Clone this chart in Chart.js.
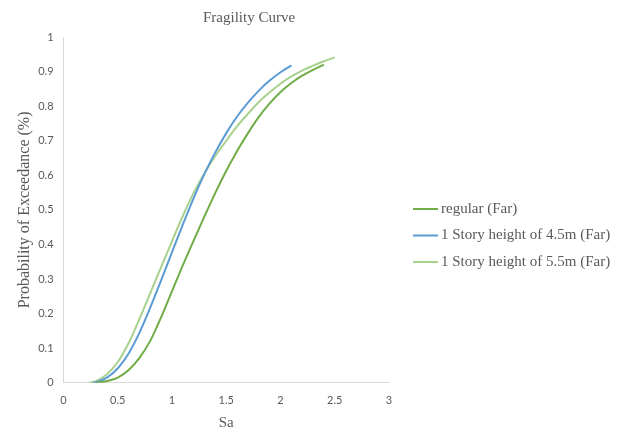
<!DOCTYPE html>
<html>
<head>
<meta charset="utf-8">
<script src="https://cdn.jsdelivr.net/npm/chart.js@4"></script>
<style>
  html, body { margin: 0; padding: 0; background: #fff; }
  #wrap { width: 618px; height: 430px; }
</style>
</head>
<body>
<div id="wrap"><canvas id="chart"></canvas></div>
<script>
var xTicks = [0, 0.5, 1, 1.5, 2, 2.5, 3];

var regularSa = [0.30, 0.40, 0.50, 0.60, 0.70, 0.80, 0.90, 1.00, 1.10, 1.20, 1.30, 1.40, 1.50, 1.60, 1.70, 1.80, 1.90, 2.00, 2.10, 2.20, 2.30, 2.40];
var regularP  = [0, 0.005, 0.015, 0.037, 0.072, 0.122, 0.19, 0.265, 0.34, 0.412, 0.482, 0.55, 0.613, 0.67, 0.722, 0.769, 0.808, 0.841, 0.867, 0.888, 0.905, 0.92];

var h45Sa = [0.27, 0.30, 0.40, 0.50, 0.60, 0.70, 0.80, 0.90, 1.00, 1.10, 1.20, 1.30, 1.40, 1.50, 1.60, 1.70, 1.80, 1.90, 2.00, 2.10];
var h45P  = [0, 0.002, 0.015, 0.042, 0.085, 0.145, 0.218, 0.297, 0.378, 0.458, 0.535, 0.605, 0.667, 0.722, 0.77, 0.81, 0.845, 0.874, 0.898, 0.918];

var h55Sa = [0.235, 0.30, 0.40, 0.50, 0.60, 0.70, 0.80, 0.90, 1.00, 1.10, 1.20, 1.30, 1.40, 1.50, 1.60, 1.70, 1.80, 1.90, 2.00, 2.10, 2.20, 2.30, 2.40, 2.50];
var h55P  = [0, 0.005, 0.025, 0.06, 0.115, 0.185, 0.26, 0.335, 0.41, 0.483, 0.55, 0.607, 0.657, 0.70, 0.742, 0.778, 0.812, 0.84, 0.865, 0.886, 0.903, 0.917, 0.93, 0.941];

var seriesNames = ['regular (Far)', '1 Story height of 4.5m (Far)', '1 Story height of 5.5m (Far)'];
var seriesColors = ['#70ad47', '#5b9bd5', '#a9d18e'];

function pts(xs, ys) {
    var out = [];
    for (var i = 0; i < xs.length; i++) {
        out.push({x: xs[i], y: ys[i]});
    }
    return out;
}

function makeSet(i, xs, ys) {
    return {
        label: seriesNames[i],
        data: pts(xs, ys),
        borderColor: seriesColors[i],
        backgroundColor: seriesColors[i],
        borderWidth: 2,
        pointRadius: 0,
        cubicInterpolationMode: 'monotone',
        fill: false
    };
}

var grey = '#595959';

// title + legend drawn by hand (chart.js caps a side legend at a quarter of the width)
var decoPlugin = {
    id: 'deco',
    afterDraw: function (chart) {
        var ctx = chart.ctx;
        var a = chart.chartArea;
        ctx.save();
        ctx.font = "15px 'Liberation Serif'";
        ctx.fillStyle = grey;
        ctx.textAlign = 'center';
        ctx.textBaseline = 'middle';
        ctx.fillText('Fragility Curve', a.left + (a.right - a.left) * 0.57, 18);

        ctx.font = "15px 'Liberation Serif'";
        ctx.textAlign = 'left';
        var sets = chart.data.datasets;
        var x0 = a.right + 24;
        var y0 = 209;
        for (var i = 0; i < sets.length; i++) {
            var y = y0 + i * 26.5;
            ctx.strokeStyle = sets[i].borderColor;
            ctx.lineWidth = sets[i].borderWidth;
            ctx.beginPath();
            ctx.moveTo(x0, y);
            ctx.lineTo(x0 + 25, y);
            ctx.stroke();
            ctx.fillText(sets[i].label, x0 + 28, y);
        }
        ctx.restore();
    }
};

function plainTick(v) {
    return String(Math.round(v * 10) / 10);
}

var ctx = document.getElementById('chart').getContext('2d');
var myChart = new Chart(ctx, {
    type: 'line',
    data: {
        datasets: [
            makeSet(0, regularSa, regularP),
            makeSet(1, h45Sa, h45P),
            makeSet(2, h55Sa, h55P)
        ]
    },
    options: {
        responsive: true,
        maintainAspectRatio: false,
        animation: false,
        layout: {
            padding: {top: 37, left: 2, right: 229, bottom: -2}
        },
        scales: {
            x: {
                type: 'linear',
                min: 0,
                max: 3,
                afterBuildTicks: function (axis) {
                    axis.ticks = xTicks.map(function (v) { return {value: v}; });
                },
                grid: {display: false, drawTicks: false},
                border: {display: true, color: '#d9d9d9', width: 1},
                ticks: {
                    color: grey,
                    padding: 11,
                    font: {family: 'Lato', size: 11},
                    maxRotation: 0,
                    callback: plainTick
                },
                title: {
                    display: true,
                    text: 'Sa',
                    color: grey,
                    font: {family: 'Liberation Serif', size: 15},
                    padding: {top: -4, bottom: 0}
                }
            },
            y: {
                min: 0,
                max: 1,
                grid: {display: false, drawTicks: false},
                border: {display: true, color: '#d9d9d9', width: 1},
                ticks: {
                    stepSize: 0.1,
                    color: grey,
                    padding: 10,
                    font: {family: 'Lato', size: 11},
                    callback: plainTick
                },
                title: {
                    display: true,
                    text: 'Probability of Exceedance (%)',
                    color: grey,
                    font: {family: 'Liberation Serif', size: 16},
                    padding: {top: 13.4, bottom: -6.4}
                }
            }
        },
        plugins: {
            title: {display: false},
            tooltip: {enabled: false},
            legend: {display: false}
        }
    },
    plugins: [decoPlugin]
});
</script>
</body>
</html>
